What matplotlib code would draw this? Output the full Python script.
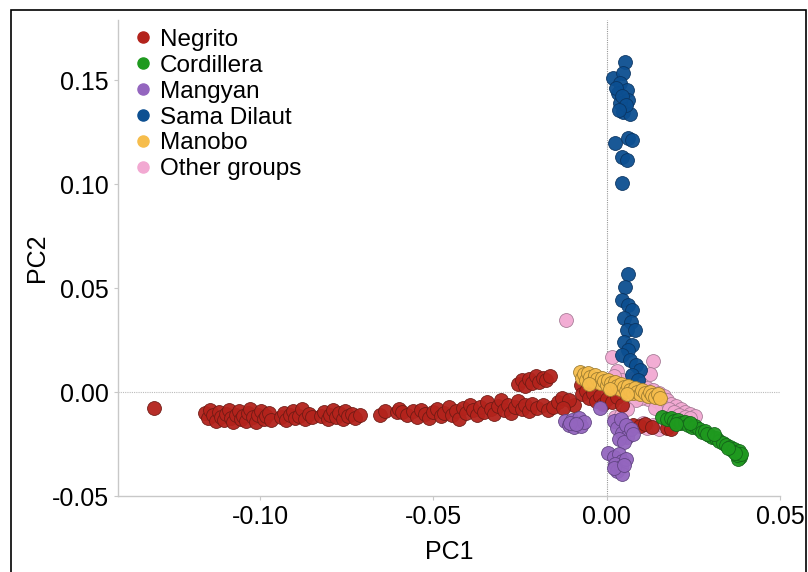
import numpy as np
import matplotlib
matplotlib.use("Agg")
import matplotlib.pyplot as plt
from matplotlib.patches import Rectangle
from matplotlib.lines import Line2D

plt.rcParams['font.family'] = ['Liberation Sans', 'DejaVu Sans']

# PC1 / PC2 coordinates, one list per group
negrito_pc1 = [-0.1306,
               -0.1160, -0.1150, -0.1145, -0.1135, -0.1128, -0.1120, -0.1112, -0.1105, -0.1098,
               -0.1090, -0.1085, -0.1078, -0.1070, -0.1062, -0.1055, -0.1050, -0.1042, -0.1035,
               -0.1028, -0.1020, -0.1012, -0.1005, -0.0998, -0.0990, -0.0982, -0.0975, -0.0968,
               -0.0940, -0.0932, -0.0925, -0.0915, -0.0905, -0.0898, -0.0888, -0.0878, -0.0870,
               -0.0860, -0.0850,
               -0.0825, -0.0815, -0.0805, -0.0798, -0.0790, -0.0780, -0.0772, -0.0762, -0.0755,
               -0.0745, -0.0735, -0.0725, -0.0712,
               -0.0655, -0.0640, -0.0605, -0.0600,
               -0.0590, -0.0575, -0.0560, -0.0548, -0.0535, -0.0525, -0.0512, -0.0500, -0.0490,
               -0.0478, -0.0468, -0.0455, -0.0445, -0.0435, -0.0425, -0.0415, -0.0405, -0.0395,
               -0.0385, -0.0375, -0.0365, -0.0355, -0.0345, -0.0335, -0.0325, -0.0315, -0.0305,
               -0.0295, -0.0285, -0.0275, -0.0265, -0.0255, -0.0245, -0.0235, -0.0225, -0.0215,
               -0.0200, -0.0185, -0.0170, -0.0155, -0.0140, -0.0130,
               -0.0255, -0.0245, -0.0235, -0.0225, -0.0215, -0.0205, -0.0195, -0.0185, -0.0175,
               -0.0165,
               -0.0075, -0.0070, -0.0060, -0.0050, -0.0040, -0.0030, -0.0020, -0.0010, 0.0000,
               0.0015, 0.0030, 0.0045, -0.0095, -0.0110, -0.0125,
               0.0075, 0.0095, 0.0110, 0.0130, 0.0175, 0.0185]
negrito_pc2 = [-0.0077,
               -0.0100, -0.0125, -0.0085, -0.0110, -0.0140, -0.0095, -0.0120, -0.0135, -0.0105,
               -0.0085, -0.0125, -0.0145, -0.0110, -0.0090, -0.0130, -0.0115, -0.0140, -0.0100,
               -0.0080, -0.0120, -0.0145, -0.0110, -0.0090, -0.0130, -0.0115, -0.0100, -0.0135,
               -0.0120, -0.0100, -0.0135, -0.0110, -0.0090, -0.0125, -0.0115, -0.0080, -0.0130,
               -0.0105, -0.0120,
               -0.0115, -0.0095, -0.0130, -0.0110, -0.0085, -0.0120, -0.0100, -0.0130, -0.0090,
               -0.0115, -0.0105, -0.0125, -0.0110,
               -0.0110, -0.0090, -0.0095, -0.0080,
               -0.0095, -0.0110, -0.0090, -0.0120, -0.0085, -0.0105, -0.0125, -0.0095, -0.0080,
               -0.0115, -0.0100, -0.0070, -0.0110, -0.0090, -0.0130, -0.0075, -0.0100, -0.0060,
               -0.0085, -0.0110, -0.0070, -0.0095, -0.0050, -0.0080, -0.0105, -0.0065, -0.0040,
               -0.0085, -0.0060, -0.0100, -0.0070, -0.0045, -0.0080, -0.0060, -0.0090, -0.0055,
               -0.0075, -0.0060, -0.0085, -0.0070, -0.0050, -0.0030,
               0.0040, 0.0060, 0.0030, 0.0065, 0.0045, 0.0075, 0.0050, 0.0070, 0.0060,
               0.0075,
               0.0035, -0.0010, 0.0005, -0.0030, -0.0005, -0.0045, -0.0020, -0.0055, -0.0035,
               -0.0050, -0.0025, -0.0060, -0.0060, -0.0040, -0.0075,
               -0.0160, -0.0165, -0.0155, -0.0170, -0.0175, -0.0180]

cordillera_pc1 = [0.0160, 0.0175, 0.0185, 0.0195, 0.0205, 0.0215, 0.0225, 0.0235, 0.0245,
                  0.0255, 0.0265, 0.0275, 0.0285, 0.0295, 0.0305, 0.0315, 0.0325, 0.0335,
                  0.0345, 0.0355, 0.0362, 0.0368, 0.0372, 0.0378, 0.0382, 0.0385, 0.0380,
                  0.0375, 0.0388, 0.0370, 0.0200, 0.0240, 0.0290, 0.0310, 0.0350]
cordillera_pc2 = [-0.0120, -0.0130, -0.0125, -0.0140, -0.0135, -0.0150, -0.0145, -0.0160, -0.0170,
                  -0.0165, -0.0180, -0.0190, -0.0185, -0.0205, -0.0215, -0.0220, -0.0235, -0.0245,
                  -0.0255, -0.0265, -0.0280, -0.0272, -0.0290, -0.0300, -0.0285, -0.0310, -0.0320,
                  -0.0305, -0.0300, -0.0295, -0.0155, -0.0150, -0.0200, -0.0200, -0.0270]

mangyan_pc1 = [-0.0120, -0.0110, -0.0100, -0.0095, -0.0085, -0.0080, -0.0075, -0.0065, -0.0105, -0.0090,
               0.0020, 0.0030, 0.0040, 0.0045, 0.0055, 0.0060, 0.0070, 0.0035, 0.0050, 0.0075,
               0.0005, 0.0020, 0.0035, 0.0045, 0.0025, 0.0040, 0.0055, 0.0030, 0.0045, 0.0020, 0.0050,
               -0.0020]
mangyan_pc2 = [-0.0140, -0.0160, -0.0135, -0.0170, -0.0150, -0.0125, -0.0165, -0.0145, -0.0150, -0.0155,
               -0.0140, -0.0175, -0.0130, -0.0195, -0.0160, -0.0215, -0.0180, -0.0225, -0.0240, -0.0200,
               -0.0295, -0.0310, -0.0300, -0.0330, -0.0345, -0.0360, -0.0320, -0.0380, -0.0395, -0.0365, -0.0350,
               -0.0075]

sama_pc1 = [0.0052, 0.0017, 0.0046, 0.0037, 0.0032, 0.0058, 0.0061, 0.0037, 0.0046, 0.0066,
            0.0026, 0.0043, 0.0055, 0.0035,
            0.0023, 0.0061, 0.0072, 0.0043, 0.0058, 0.0043,
            0.0061, 0.0052, 0.0043, 0.0061, 0.0072, 0.0049, 0.0069, 0.0058, 0.0081, 0.0049,
            0.0072, 0.0061, 0.0043, 0.0066, 0.0084, 0.0095, 0.0072, 0.0089]
sama_pc2 = [0.1587, 0.1510, 0.1534, 0.1486, 0.1438, 0.1452, 0.1404, 0.1390, 0.1346, 0.1340,
            0.1462, 0.1423, 0.1380, 0.1356,
            0.1197, 0.1221, 0.1212, 0.1130, 0.1115, 0.1005,
            0.0567, 0.0505, 0.0442, 0.0418, 0.0394, 0.0356, 0.0337, 0.0298, 0.0298, 0.0240,
            0.0226, 0.0202, 0.0178, 0.0154, 0.0130, 0.0106, 0.0082, 0.0058]

manobo_pc1 = [-0.0078, -0.0072, -0.0065, -0.0060, -0.0055, -0.0048, -0.0040, -0.0035, -0.0028, -0.0020,
              -0.0015, -0.0008, 0.0000, 0.0005, 0.0012, 0.0018, 0.0025, 0.0030, 0.0038, 0.0042,
              0.0050, 0.0055, 0.0062, 0.0068, 0.0075, 0.0082, 0.0088, 0.0095, 0.0102, 0.0110,
              0.0118, 0.0125, 0.0132, 0.0140, 0.0148, 0.0155, -0.0050, 0.0010, 0.0060]
manobo_pc2 = [0.0095, 0.0070, 0.0085, 0.0060, 0.0090, 0.0072, 0.0055, 0.0080, 0.0062, 0.0045,
              0.0070, 0.0052, 0.0035, 0.0060, 0.0042, 0.0025, 0.0050, 0.0030, 0.0015, 0.0040,
              0.0022, 0.0005, 0.0030, 0.0012, -0.0005, 0.0020, 0.0002, -0.0010, 0.0010, -0.0005,
              -0.0018, 0.0000, -0.0015, -0.0025, -0.0010, -0.0030, 0.0040, 0.0015, -0.0010]

other_pc1 = [-0.0118, 0.0015, 0.0135, 0.0125, 0.0030, 0.0045, 0.0080, 0.0100, 0.0020, 0.0065,
             0.0115, 0.0135, 0.0150, 0.0165, 0.0175, 0.0185, 0.0200, 0.0215, 0.0225, 0.0240,
             0.0255, 0.0145, 0.0160, 0.0180, 0.0195, 0.0210, 0.0120, 0.0100, 0.0085, 0.0140,
             0.0095, 0.0115, 0.0135, 0.0150, 0.0165, 0.0105, 0.0025, 0.0040, 0.0060, 0.0225,
             0.0240]
other_pc2 = [0.0346, 0.0170, 0.0150, 0.0085, 0.0100, 0.0060, 0.0070, 0.0040, 0.0075, 0.0030,
             0.0020, 0.0010, -0.0005, -0.0020, -0.0040, -0.0055, -0.0065, -0.0080, -0.0095, -0.0105,
             -0.0115, -0.0045, -0.0065, -0.0080, -0.0095, -0.0110, -0.0035, -0.0030, -0.0040, -0.0075,
             -0.0160, -0.0175, -0.0160, -0.0180, -0.0165, -0.0150, -0.0120, -0.0110, -0.0080, -0.0120,
             -0.0125]

group_names = ['Negrito', 'Cordillera', 'Mangyan', 'Sama Dilaut', 'Manobo', 'Other groups']
group_colors = ['#b3231c', '#1f9a1f', '#9466bf', '#0c4f91', '#f6bd4c', '#f2a9d2']
group_edges = ['#6e1a14', '#14631a', '#5f4380', '#0a3461', '#9a7a30', '#a57a95']

fig = plt.figure(figsize=(8.08, 5.72), dpi=100)
ax = fig.add_axes([118 / 808, 76 / 572, 662 / 808, 476 / 572])

data = {
    'Negrito': (negrito_pc1, negrito_pc2),
    'Cordillera': (cordillera_pc1, cordillera_pc2),
    'Mangyan': (mangyan_pc1, mangyan_pc2),
    'Sama Dilaut': (sama_pc1, sama_pc2),
    'Manobo': (manobo_pc1, manobo_pc2),
    'Other groups': (other_pc1, other_pc2),
}
draw_order = ['Other groups', 'Negrito', 'Mangyan', 'Sama Dilaut', 'Cordillera', 'Manobo']

ax.axhline(0, color='#bbbbbb', lw=0.8, ls=(0, (1, 1)), zorder=0)
ax.axvline(0, color='#999999', lw=0.8, ls=(0, (1, 1)), zorder=0)

for name in draw_order:
    i = group_names.index(name)
    xs, ys = data[name]
    ax.scatter(xs, ys, s=100, c=group_colors[i], edgecolors=group_edges[i],
               linewidths=0.6, alpha=0.95, zorder=2)

ax.set_xlim(-0.141, 0.05)
ax.set_ylim(-0.05, 0.179)
ax.set_xticks([-0.10, -0.05, 0.00, 0.05])
ax.set_xticklabels(['-0.10', '-0.05', '0.00', '0.05'])
ax.set_yticks([-0.05, 0.00, 0.05, 0.10, 0.15])
ax.set_yticklabels(['-0.05', '0.00', '0.05', '0.10', '0.15'])

for side in ['top', 'right']:
    ax.spines[side].set_visible(False)
for side in ['left', 'bottom']:
    ax.spines[side].set_color('#c8c8c8')
    ax.spines[side].set_linewidth(1.0)
ax.tick_params(colors='#c8c8c8', labelcolor='black', labelsize=18, length=3, width=0.8)
ax.set_xlabel('PC1', fontsize=18, labelpad=8)
ax.set_ylabel('PC2', fontsize=18, labelpad=2)

handles = [Line2D([], [], marker='o', ls='', markersize=8, markerfacecolor=c,
                  markeredgecolor=c) for c in group_colors]
ax.legend(handles, group_names, loc='upper left', bbox_to_anchor=(-0.003, 1.012),
          frameon=False, fontsize=17.5, handletextpad=0.2, labelspacing=0.16,
          handlelength=1.0, borderaxespad=0.2)

fig.patches.append(Rectangle((11 / 808, -0.02), 795 / 808, 1.02 - 10 / 572,
                             transform=fig.transFigure, fill=False,
                             edgecolor='black', linewidth=1.2))

fig.savefig('out.png', dpi=100)
